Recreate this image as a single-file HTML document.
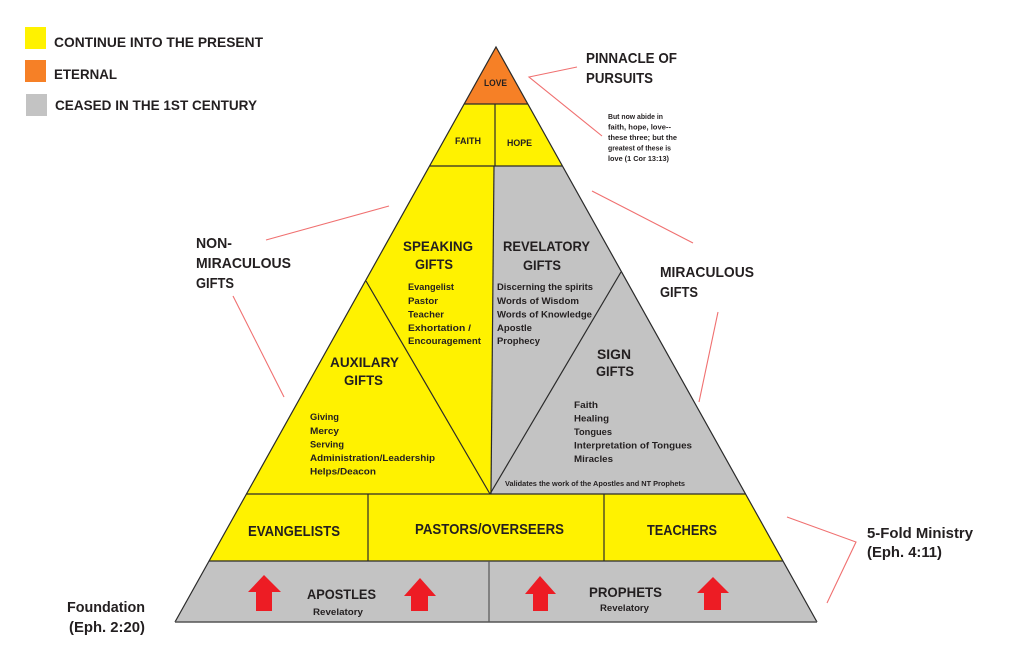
<!DOCTYPE html>
<html>
<head>
<meta charset="utf-8">
<style>
html,body{margin:0;padding:0;background:#fff;}
svg{display:block;}
text{font-family:"Liberation Sans",sans-serif;font-weight:bold;fill:#231f20;}
</style>
</head>
<body>
<svg width="1024" height="660" viewBox="0 0 1024 660" xmlns="http://www.w3.org/2000/svg">
<rect width="1024" height="660" fill="#fff"/>

<!-- Legend -->
<rect x="25" y="27" width="21" height="22" fill="#fff200"/>
<rect x="25" y="60" width="21" height="22" fill="#f68026"/>
<rect x="26" y="94" width="21" height="22" fill="#c3c3c3"/>
<text x="54" y="47" font-size="14" textLength="209" lengthAdjust="spacingAndGlyphs">CONTINUE INTO THE PRESENT</text>
<text x="54" y="79" font-size="14" textLength="63" lengthAdjust="spacingAndGlyphs">ETERNAL</text>
<text x="55" y="110" font-size="14" textLength="202" lengthAdjust="spacingAndGlyphs">CEASED IN THE 1ST CENTURY</text>

<!-- Pyramid fills -->
<polygon points="496,47 464,104 528,104" fill="#f68026"/>
<polygon points="464,104 495,104 495,166 430,166" fill="#fff200"/>
<polygon points="495,104 528,104 562,166 495,166" fill="#fff200"/>
<polygon points="430,166 494,166 491,494 246,494" fill="#fff200"/>
<polygon points="494,166 562,166 746,494 491,494" fill="#c3c3c3"/>
<polygon points="246,494 746,494 783,561 209,561" fill="#fff200"/>
<polygon points="209,561 783,561 817,622 175,622" fill="#c3c3c3"/>

<!-- Pyramid lines -->
<g stroke="#2a2a2a" stroke-width="1.2" fill="none">
  <polyline points="175,622 496,47 817,622"/>
  <line x1="464" y1="104" x2="528" y2="104"/>
  <line x1="495" y1="104" x2="495" y2="166"/>
  <line x1="430" y1="166" x2="562" y2="166"/>
  <line x1="494" y1="166" x2="491" y2="494"/>
  <line x1="366" y1="281" x2="490" y2="494"/>
  <line x1="621" y1="272" x2="490" y2="494"/>
  <line x1="246" y1="494" x2="746" y2="494"/>
  <line x1="368" y1="494" x2="368" y2="561"/>
  <line x1="604" y1="494" x2="604" y2="561"/>
  <line x1="209" y1="561" x2="783" y2="561"/>
  <line x1="489" y1="561" x2="489" y2="622" stroke="#555"/>
  <line x1="175" y1="622" x2="817" y2="622" stroke="#555" stroke-width="1.5"/>
</g>

<!-- Red connector lines -->
<g stroke="#f07070" stroke-width="1.1" fill="none">
  <polyline points="577,67 529,77 602,136"/>
  <line x1="592" y1="191" x2="693" y2="243"/>
  <line x1="718" y1="312" x2="699" y2="402"/>
  <line x1="266" y1="240" x2="389" y2="206"/>
  <line x1="233" y1="296" x2="284" y2="397"/>
  <polyline points="787,517 856,542 827,603"/>
</g>

<!-- Top labels -->
<text x="484" y="86" font-size="9.5" textLength="23" lengthAdjust="spacingAndGlyphs">LOVE</text>
<text x="455" y="144" font-size="9.5" textLength="26" lengthAdjust="spacingAndGlyphs">FAITH</text>
<text x="507" y="146" font-size="9.5" textLength="25" lengthAdjust="spacingAndGlyphs">HOPE</text>

<text x="586" y="63" font-size="15" textLength="91" lengthAdjust="spacingAndGlyphs">PINNACLE OF</text>
<text x="586" y="83" font-size="15" textLength="67" lengthAdjust="spacingAndGlyphs">PURSUITS</text>

<g font-size="7.5">
  <text x="608" y="119" textLength="55" lengthAdjust="spacingAndGlyphs">But now abide in</text>
  <text x="608" y="129.5" textLength="63" lengthAdjust="spacingAndGlyphs">faith, hope, love--</text>
  <text x="608" y="140" textLength="69" lengthAdjust="spacingAndGlyphs">these three; but the</text>
  <text x="608" y="150.5" textLength="63" lengthAdjust="spacingAndGlyphs">greatest of these is</text>
  <text x="608" y="161" textLength="61" lengthAdjust="spacingAndGlyphs">love (1 Cor 13:13)</text>
</g>

<!-- Side labels -->
<text x="660" y="277" font-size="15" textLength="94" lengthAdjust="spacingAndGlyphs">MIRACULOUS</text>
<text x="660" y="297" font-size="15" textLength="38" lengthAdjust="spacingAndGlyphs">GIFTS</text>

<text x="196" y="248" font-size="15" textLength="36" lengthAdjust="spacingAndGlyphs">NON-</text>
<text x="196" y="268" font-size="15" textLength="95" lengthAdjust="spacingAndGlyphs">MIRACULOUS</text>
<text x="196" y="288" font-size="15" textLength="38" lengthAdjust="spacingAndGlyphs">GIFTS</text>

<!-- Speaking gifts -->
<text x="403" y="251" font-size="14" textLength="70" lengthAdjust="spacingAndGlyphs">SPEAKING</text>
<text x="415" y="269" font-size="14" textLength="38" lengthAdjust="spacingAndGlyphs">GIFTS</text>
<g font-size="9.5">
  <text x="408" y="290" textLength="46" lengthAdjust="spacingAndGlyphs">Evangelist</text>
  <text x="408" y="304" textLength="30" lengthAdjust="spacingAndGlyphs">Pastor</text>
  <text x="408" y="317.5" textLength="36" lengthAdjust="spacingAndGlyphs">Teacher</text>
  <text x="408" y="331" textLength="63" lengthAdjust="spacingAndGlyphs">Exhortation /</text>
  <text x="408" y="344" textLength="73" lengthAdjust="spacingAndGlyphs">Encouragement</text>
</g>

<!-- Auxilary gifts -->
<text x="330" y="367" font-size="14" textLength="69" lengthAdjust="spacingAndGlyphs">AUXILARY</text>
<text x="344" y="385" font-size="14" textLength="39" lengthAdjust="spacingAndGlyphs">GIFTS</text>
<g font-size="9.5">
  <text x="310" y="420" textLength="29" lengthAdjust="spacingAndGlyphs">Giving</text>
  <text x="310" y="434" textLength="29" lengthAdjust="spacingAndGlyphs">Mercy</text>
  <text x="310" y="447.5" textLength="34" lengthAdjust="spacingAndGlyphs">Serving</text>
  <text x="310" y="461" textLength="125" lengthAdjust="spacingAndGlyphs">Administration/Leadership</text>
  <text x="310" y="474.5" textLength="66" lengthAdjust="spacingAndGlyphs">Helps/Deacon</text>
</g>

<!-- Revelatory gifts -->
<text x="503" y="251" font-size="14" textLength="87" lengthAdjust="spacingAndGlyphs">REVELATORY</text>
<text x="523" y="270" font-size="14" textLength="38" lengthAdjust="spacingAndGlyphs">GIFTS</text>
<g font-size="9.5">
  <text x="497" y="290" textLength="96" lengthAdjust="spacingAndGlyphs">Discerning the spirits</text>
  <text x="497" y="304" textLength="82" lengthAdjust="spacingAndGlyphs">Words of Wisdom</text>
  <text x="497" y="317.5" textLength="95" lengthAdjust="spacingAndGlyphs">Words of Knowledge</text>
  <text x="497" y="331" textLength="35" lengthAdjust="spacingAndGlyphs">Apostle</text>
  <text x="497" y="344" textLength="43" lengthAdjust="spacingAndGlyphs">Prophecy</text>
</g>

<!-- Sign gifts -->
<text x="597" y="359" font-size="14" textLength="34" lengthAdjust="spacingAndGlyphs">SIGN</text>
<text x="596" y="376" font-size="14" textLength="38" lengthAdjust="spacingAndGlyphs">GIFTS</text>
<g font-size="9.5">
  <text x="574" y="408" textLength="24" lengthAdjust="spacingAndGlyphs">Faith</text>
  <text x="574" y="421.5" textLength="35" lengthAdjust="spacingAndGlyphs">Healing</text>
  <text x="574" y="435" textLength="38" lengthAdjust="spacingAndGlyphs">Tongues</text>
  <text x="574" y="448.5" textLength="118" lengthAdjust="spacingAndGlyphs">Interpretation of Tongues</text>
  <text x="574" y="462" textLength="39" lengthAdjust="spacingAndGlyphs">Miracles</text>
</g>
<text x="505" y="486" font-size="7" textLength="180" lengthAdjust="spacingAndGlyphs">Validates the work of the Apostles and NT Prophets</text>

<!-- 5-fold ministry band -->
<text x="248" y="536" font-size="15" textLength="92" lengthAdjust="spacingAndGlyphs">EVANGELISTS</text>
<text x="415" y="534" font-size="15" textLength="149" lengthAdjust="spacingAndGlyphs">PASTORS/OVERSEERS</text>
<text x="647" y="535" font-size="15" textLength="70" lengthAdjust="spacingAndGlyphs">TEACHERS</text>

<!-- Foundation band -->
<text x="307" y="599" font-size="14" textLength="69" lengthAdjust="spacingAndGlyphs">APOSTLES</text>
<text x="313" y="615" font-size="9" textLength="50" lengthAdjust="spacingAndGlyphs">Revelatory</text>
<text x="589" y="597" font-size="14" textLength="73" lengthAdjust="spacingAndGlyphs">PROPHETS</text>
<text x="600" y="611" font-size="9" textLength="49" lengthAdjust="spacingAndGlyphs">Revelatory</text>

<!-- Red arrows -->
<g fill="#ed1c24">
  <polygon points="264,575 281,592 272,592 272,611 256,611 256,592 248,592"/>
  <polygon points="420,578 436,596 428,596 428,611 411,611 411,596 404,596"/>
  <polygon points="540,576 556,594 548,594 548,611 533,611 533,594 525,594"/>
  <polygon points="713,577 729,593 721,593 721,610 704,610 704,593 697,593"/>
</g>

<!-- Right / left bottom labels -->
<text x="867" y="538" font-size="15" textLength="106" lengthAdjust="spacingAndGlyphs">5-Fold Ministry</text>
<text x="867" y="557" font-size="15" textLength="75" lengthAdjust="spacingAndGlyphs">(Eph. 4:11)</text>
<text x="67" y="612" font-size="14.5" textLength="78" lengthAdjust="spacingAndGlyphs">Foundation</text>
<text x="69" y="632" font-size="14.5" textLength="76" lengthAdjust="spacingAndGlyphs">(Eph. 2:20)</text>
</svg>
</body>
</html>
